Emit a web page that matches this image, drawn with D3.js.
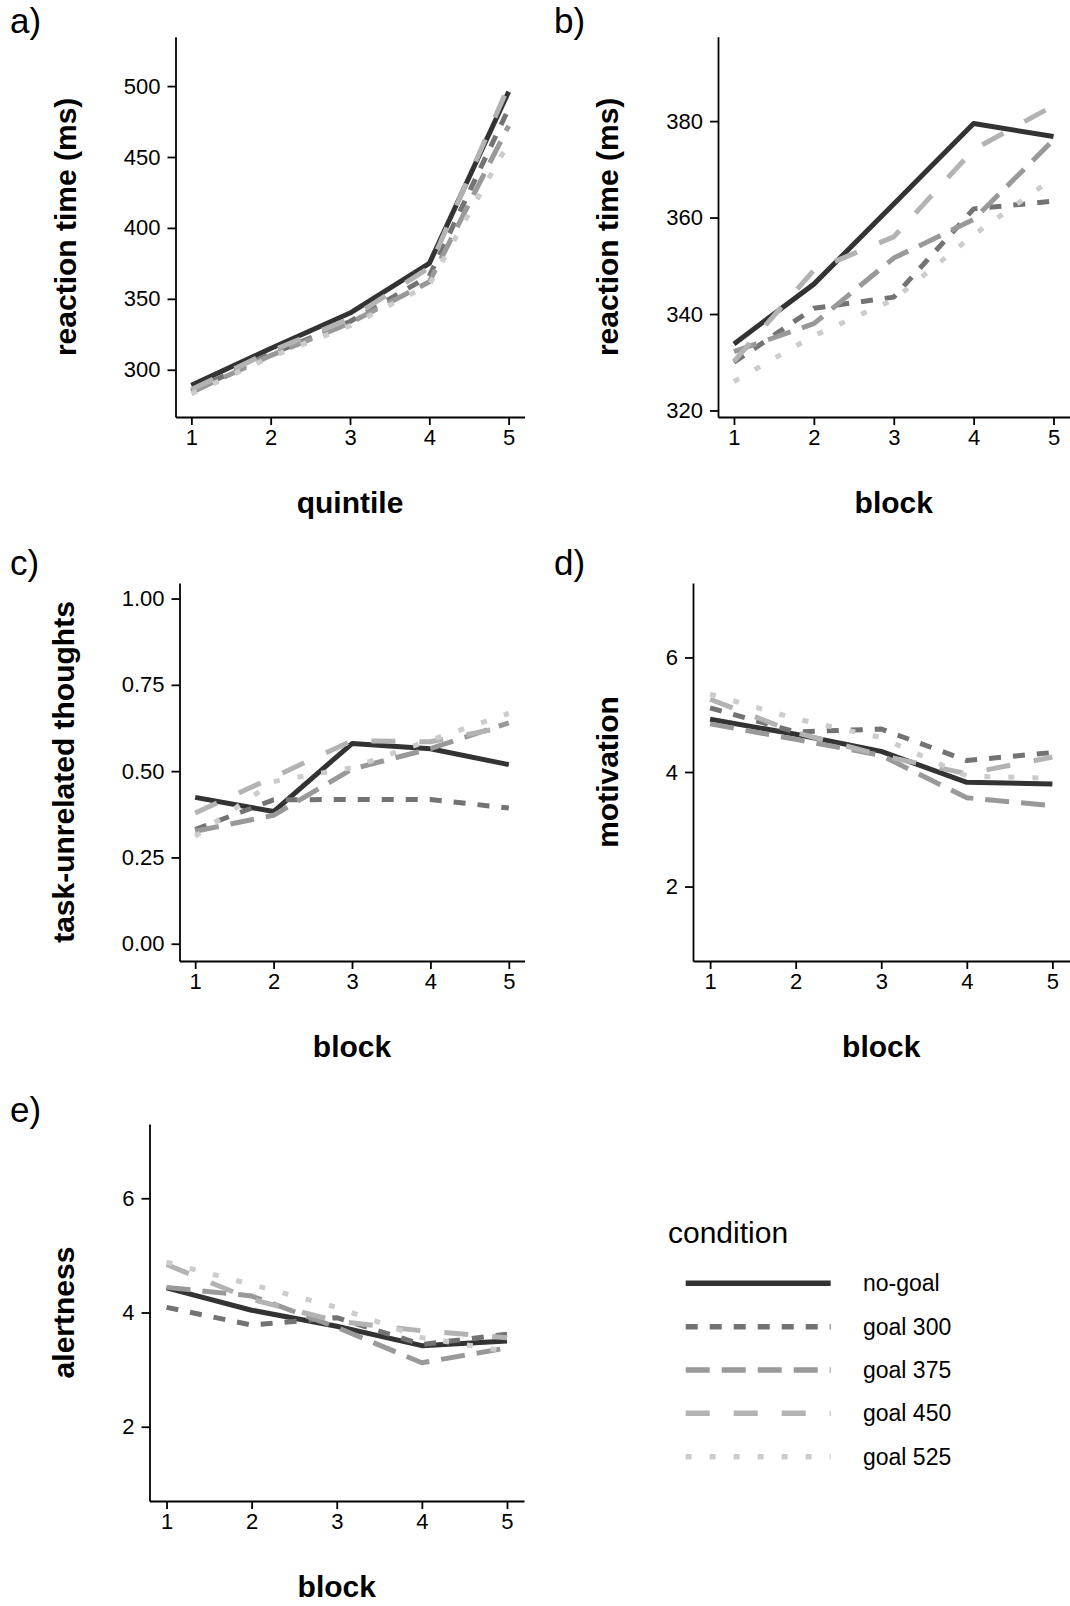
<!DOCTYPE html>
<html>
<head>
<meta charset="utf-8">
<script src="https://cdn.jsdelivr.net/npm/d3@7/dist/d3.min.js"></script>
<style>
body { margin: 0; background: #fff; }
text { font-family: "Liberation Sans", Arial, sans-serif; }
</style>
</head>
<body>
<svg id="chart" width="1070" height="1606"></svg>
<script>
// conditions and their line styles
var conditions = ["no-goal", "goal 300", "goal 375", "goal 450", "goal 525"];
var lineColors = ["#333333", "#737373", "#999999", "#b3b3b3", "#cccccc"];
var lineDashes = [null, "12,12", "24,12", "24,24", "6,18"];

var steps = [1, 2, 3, 4, 5];

// a) reaction time by quintile
var rtQuintile = [
    [289, 315, 340, 375, 496],
    [285, 311, 334, 366, 484],
    [284, 310, 333, 362, 472],
    [286, 313, 336, 372, 500],
    [283, 309, 331, 360, 460]
];
var rtQuintileTicks = [300, 350, 400, 450, 500];

// b) reaction time by block
var rtBlock = [
    [333.8, 346.2, 362.8, 379.5, 376.8],
    [330.0, 341.2, 343.5, 361.8, 363.4],
    [332.2, 338.0, 351.6, 359.6, 376.1],
    [330.2, 349.1, 356.0, 374.1, 383.2],
    [326.0, 335.5, 343.0, 356.4, 368.2]
];
var rtBlockTicks = [320, 340, 360, 380];

// c) task-unrelated thoughts
var tut = [
    [0.424, 0.383, 0.580, 0.565, 0.519],
    [0.331, 0.417, 0.418, 0.418, 0.393],
    [0.326, 0.372, 0.506, 0.565, 0.640],
    [0.379, 0.483, 0.588, 0.585, 0.630],
    [0.311, 0.470, 0.510, 0.590, 0.667]
];
var tutTicks = [0, 0.25, 0.5, 0.75, 1];

// d) motivation
var motivation = [
    [4.92, 4.66, 4.36, 3.82, 3.79],
    [5.12, 4.70, 4.75, 4.20, 4.34],
    [4.84, 4.57, 4.29, 3.55, 3.41],
    [5.27, 4.69, 4.29, 3.97, 4.26],
    [5.36, 4.93, 4.60, 3.93, 3.89]
];
// e) alertness
var alertness = [
    [4.43, 4.04, 3.76, 3.42, 3.50],
    [4.09, 3.78, 3.91, 3.44, 3.62],
    [4.44, 4.29, 3.74, 3.12, 3.38],
    [4.84, 4.23, 3.85, 3.68, 3.56],
    [4.88, 4.49, 4.09, 3.56, 3.32]
];
var likertTicks = [2, 4, 6];

var panels = [
    {tag: "a)", values: rtQuintile, ticks: rtQuintileTicks, fmt: d3.format("d"), yDomain: [266.7, 534.8],
     xTitle: "quintile", yTitle: "reaction time (ms)", left: 175.5, right: 524.5, top: 36.7, bottom: 417, tagX: 10, tagY: 33},
    {tag: "b)", values: rtBlock, ticks: rtBlockTicks, fmt: d3.format("d"), yDomain: [318.65, 397.5],
     xTitle: "block", yTitle: "reaction time (ms)", left: 718, right: 1069.5, top: 36.7, bottom: 417, tagX: 554, tagY: 33},
    {tag: "c)", values: tut, ticks: tutTicks, fmt: d3.format(".2f"), yDomain: [-0.05, 1.045],
     xTitle: "block", yTitle: "task-unrelated thoughts", left: 179.5, right: 524.5, top: 583, bottom: 961, tagX: 10, tagY: 575},
    {tag: "d)", values: motivation, ticks: likertTicks, fmt: d3.format("d"), yDomain: [0.7, 7.3],
     xTitle: "block", yTitle: "motivation", left: 693, right: 1069.5, top: 583, bottom: 961, tagX: 554, tagY: 575},
    {tag: "e)", values: alertness, ticks: likertTicks, fmt: d3.format("d"), yDomain: [0.7, 7.3],
     xTitle: "block", yTitle: "alertness", left: 149.5, right: 524, top: 1124, bottom: 1501, tagX: 10, tagY: 1122}
];

var svg = d3.select("#chart");

panels.forEach(function(p) {
    var x = d3.scaleLinear().domain([0.8, 5.2]).range([p.left, p.right]);
    var y = d3.scaleLinear().domain(p.yDomain).range([p.bottom, p.top]);
    var g = svg.append("g");

    var xAxis = g.append("g")
        .attr("transform", "translate(0," + p.bottom + ")")
        .call(d3.axisBottom(x).tickValues(steps).tickFormat(d3.format("d"))
            .tickSize(8).tickSizeOuter(0).tickPadding(4));
    var yAxis = g.append("g")
        .attr("transform", "translate(" + p.left + ",0)")
        .call(d3.axisLeft(y).tickValues(p.ticks).tickFormat(p.fmt)
            .tickSize(8).tickSizeOuter(0).tickPadding(7));

    [xAxis, yAxis].forEach(function(a) {
        a.select(".domain").attr("stroke", "#000").attr("stroke-width", 1.8);
        a.selectAll(".tick line").attr("stroke", "#000").attr("stroke-width", 1.8);
        a.selectAll(".tick text").attr("fill", "#000").style("font-size", "22px");
    });

    var line = d3.line()
        .x(function(d, i) { return x(steps[i]); })
        .y(function(d) { return y(d); });

    p.values.forEach(function(series, k) {
        g.append("path")
            .datum(series)
            .attr("d", line)
            .attr("fill", "none")
            .attr("stroke", lineColors[k])
            .attr("stroke-width", 5)
            .attr("stroke-linejoin", "round")
            .attr("stroke-linecap", "butt")
            .attr("stroke-dasharray", lineDashes[k]);
    });

    // axis titles
    g.append("text")
        .attr("x", (p.left + p.right) / 2)
        .attr("y", p.bottom + 96)
        .attr("text-anchor", "middle")
        .style("font-size", "30px")
        .style("font-weight", "bold")
        .text(p.xTitle);

    var bb = yAxis.node().getBBox();
    g.append("text")
        .attr("transform", "translate(" + (p.left + bb.x - 48) + "," + ((p.top + p.bottom) / 2) + ") rotate(-90)")
        .attr("text-anchor", "middle")
        .style("font-size", "30px")
        .style("font-weight", "bold")
        .text(p.yTitle);

    g.append("text")
        .attr("x", p.tagX)
        .attr("y", p.tagY)
        .style("font-size", "35px")
        .text(p.tag);
});

// legend
var legend = svg.append("g");
legend.append("text")
    .attr("x", 668)
    .attr("y", 1243)
    .style("font-size", "30px")
    .text("condition");

var keyY = d3.scalePoint().domain(conditions).range([1283.3, 1456.7]);
conditions.forEach(function(c, k) {
    legend.append("line")
        .attr("x1", 685.7).attr("x2", 830.7)
        .attr("y1", keyY(c)).attr("y2", keyY(c))
        .attr("stroke", lineColors[k])
        .attr("stroke-width", 5.5)
        .attr("stroke-dasharray", lineDashes[k]);
    legend.append("text")
        .attr("x", 863)
        .attr("y", keyY(c))
        .attr("dy", "0.35em")
        .style("font-size", "23px")
        .text(c);
});
</script>
</body>
</html>
